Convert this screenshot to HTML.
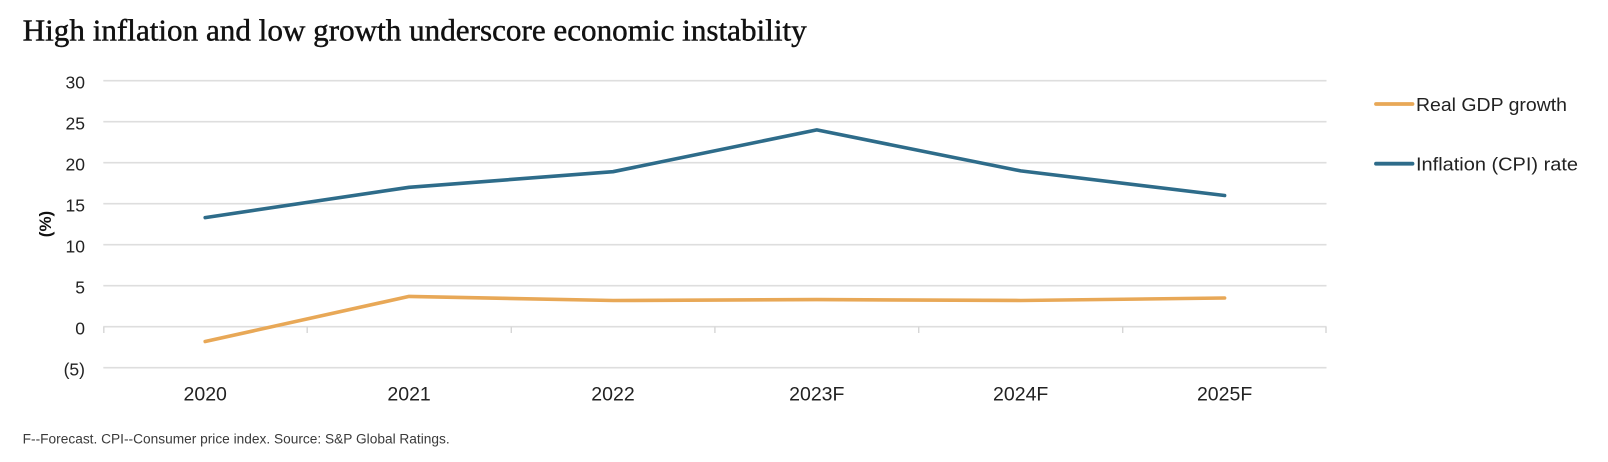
<!DOCTYPE html>
<html>
<head>
<meta charset="utf-8">
<style>
  html, body { margin:0; padding:0; background:#ffffff; }
  svg { display:block; }
</style>
</head>
<body>
<svg width="1608" height="462" viewBox="0 0 1608 462" xmlns="http://www.w3.org/2000/svg">
  <rect width="1608" height="462" fill="#ffffff"/>
  <!-- Title -->
  <text x="22.7" y="40.7" font-family="Liberation Serif, serif" font-size="31" fill="#111" stroke="#111" stroke-width="0.45" textLength="784" lengthAdjust="spacingAndGlyphs">High inflation and low growth underscore economic instability</text>

  <!-- Gridlines -->
  <g stroke="#dedede" stroke-width="1.6">
    <line x1="103.3" y1="80.7" x2="1326.5" y2="80.7"/>
    <line x1="103.3" y1="121.7" x2="1326.5" y2="121.7"/>
    <line x1="103.3" y1="162.7" x2="1326.5" y2="162.7"/>
    <line x1="103.3" y1="203.7" x2="1326.5" y2="203.7"/>
    <line x1="103.3" y1="244.7" x2="1326.5" y2="244.7"/>
    <line x1="103.3" y1="285.7" x2="1326.5" y2="285.7"/>
    <line x1="103.3" y1="326.7" x2="1326.5" y2="326.7"/>
    <line x1="103.3" y1="367.7" x2="1326.5" y2="367.7"/>
  </g>
  <!-- Ticks on zero line -->
  <g stroke="#d6d6d6" stroke-width="1.4">
    <line x1="103.8" y1="326.7" x2="103.8" y2="333"/>
    <line x1="307.2" y1="326.7" x2="307.2" y2="333"/>
    <line x1="511.3" y1="326.7" x2="511.3" y2="333"/>
    <line x1="714.9" y1="326.7" x2="714.9" y2="333"/>
    <line x1="918.7" y1="326.7" x2="918.7" y2="333"/>
    <line x1="1122.7" y1="326.7" x2="1122.7" y2="333"/>
    <line x1="1326" y1="326.7" x2="1326" y2="333"/>
  </g>

  <!-- Y labels -->
  <g font-family="Liberation Sans, sans-serif" font-size="17.5" fill="#222" text-anchor="end">
    <text x="85" y="88.3">30</text>
    <text x="85" y="129.3">25</text>
    <text x="85" y="170.3">20</text>
    <text x="85" y="211.3">15</text>
    <text x="85" y="252.3">10</text>
    <text x="85" y="293.3">5</text>
    <text x="85" y="334.3">0</text>
    <text x="85" y="375.3">(5)</text>
  </g>
  <!-- Y axis title -->
  <text x="0" y="0" transform="translate(51,224) rotate(-90)" font-family="Liberation Sans, sans-serif" font-size="17" font-weight="bold" fill="#111" text-anchor="middle">(%)</text>

  <!-- X labels -->
  <g font-family="Liberation Sans, sans-serif" font-size="19.5" fill="#222" text-anchor="middle">
    <text x="205.2" y="400.5">2020</text>
    <text x="409.1" y="400.5">2021</text>
    <text x="613.0" y="400.5">2022</text>
    <text x="816.8" y="400.5">2023F</text>
    <text x="1020.7" y="400.5">2024F</text>
    <text x="1224.6" y="400.5">2025F</text>
  </g>

  <!-- Series -->
  <polyline fill="none" stroke="#2E6C8A" stroke-width="3.6" stroke-linecap="round" stroke-linejoin="round"
    points="205.2,217.6 409.1,187.3 613.0,171.7 816.8,129.9 1020.7,170.9 1224.6,195.5"/>
  <polyline fill="none" stroke="#E8A857" stroke-width="3.6" stroke-linecap="round" stroke-linejoin="round"
    points="205.2,341.5 409.1,296.4 613.0,300.5 816.8,299.6 1020.7,300.5 1224.6,298.0"/>

  <!-- Legend -->
  <line x1="1376" y1="104" x2="1412.5" y2="104" stroke="#E8A857" stroke-width="3.8" stroke-linecap="round"/>
  <text x="1416" y="111" font-family="Liberation Sans, sans-serif" font-size="18.5" fill="#222" textLength="151" lengthAdjust="spacingAndGlyphs">Real GDP growth</text>
  <line x1="1376" y1="163.7" x2="1412.5" y2="163.7" stroke="#2E6C8A" stroke-width="3.8" stroke-linecap="round"/>
  <text x="1416" y="170.3" font-family="Liberation Sans, sans-serif" font-size="18.5" fill="#222" textLength="162" lengthAdjust="spacingAndGlyphs">Inflation (CPI) rate</text>

  <!-- Footnote -->
  <text x="22.7" y="443.3" font-family="Liberation Sans, sans-serif" font-size="13.5" fill="#3a3a3a" textLength="427" lengthAdjust="spacingAndGlyphs">F--Forecast. CPI--Consumer price index. Source: S&amp;P Global Ratings.</text>
</svg>
</body>
</html>
